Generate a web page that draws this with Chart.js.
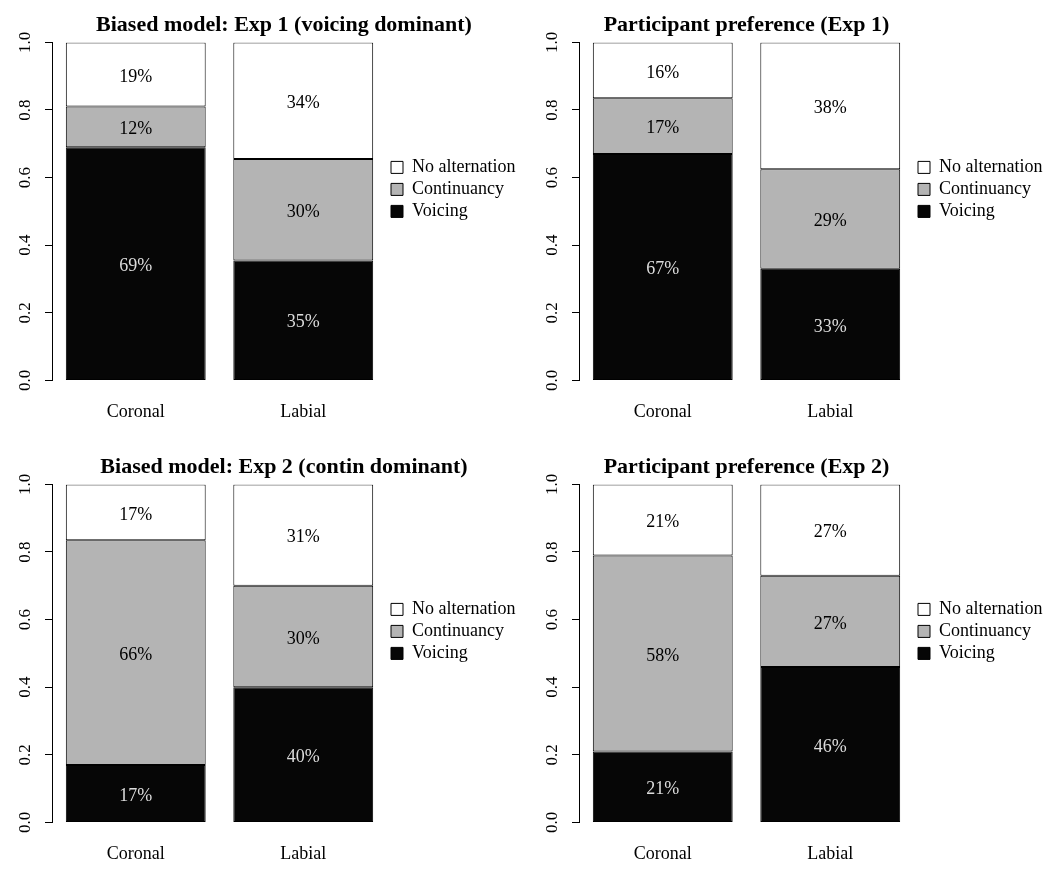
<!DOCTYPE html>
<html><head><meta charset="utf-8">
<script src="https://cdn.jsdelivr.net/npm/chart.js@4.4.1/dist/chart.umd.min.js"></script>
<style>
html,body{margin:0;padding:0;background:#fff;}
body{width:1056px;height:869px;position:relative;overflow:hidden;}
canvas{position:absolute;}
</style></head><body>
<canvas id="c1" width="568" height="434" style="left:0;top:0"></canvas>
<canvas id="c2" width="528" height="434" style="left:527px;top:0"></canvas>
<canvas id="c3" width="568" height="434" style="left:0;top:442px"></canvas>
<canvas id="c4" width="528" height="434" style="left:527px;top:442px"></canvas>
<script>
// ---- data ----
const categories = ['Coronal', 'Labial'];
const seriesNames = ['Voicing', 'Continuancy', 'No alternation'];
const yTickValues = [0, 0.2, 0.4, 0.6, 0.8, 1.0];

const title1 = 'Biased model: Exp 1 (voicing dominant)';
const voicing1 = [0.69, 0.355];
const contin1 = [0.12, 0.30];
const noAlt1 = [0.19, 0.345];
const voicingText1 = ['69%', '35%'];
const continText1 = ['12%', '30%'];
const noAltText1 = ['19%', '34%'];

const title2 = 'Participant preference (Exp 1)';
const voicing2 = [0.67, 0.33];
const contin2 = [0.165, 0.295];
const noAlt2 = [0.165, 0.375];
const voicingText2 = ['67%', '33%'];
const continText2 = ['17%', '29%'];
const noAltText2 = ['16%', '38%'];

const title3 = 'Biased model: Exp 2 (contin dominant)';
const voicing3 = [0.17, 0.40];
const contin3 = [0.665, 0.30];
const noAlt3 = [0.165, 0.30];
const voicingText3 = ['17%', '40%'];
const continText3 = ['66%', '30%'];
const noAltText3 = ['17%', '31%'];

const title4 = 'Participant preference (Exp 2)';
const voicing4 = [0.21, 0.46];
const contin4 = [0.58, 0.27];
const noAlt4 = [0.21, 0.27];
const voicingText4 = ['21%', '46%'];
const continText4 = ['58%', '27%'];
const noAltText4 = ['21%', '27%'];

// ---- rendering ----
const FONT = "'Liberation Serif', 'Times New Roman', serif";
Chart.defaults.font.family = FONT;
Chart.defaults.color = '#000';

const segLabelPlugin = {
  id: 'segLabels',
  afterDatasetsDraw(chart) {
    const ctx = chart.ctx;
    ctx.save();
    ctx.font = "18px " + FONT;
    ctx.textAlign = 'center';
    ctx.textBaseline = 'middle';
    chart.data.datasets.forEach((ds, di) => {
      const meta = chart.getDatasetMeta(di);
      meta.data.forEach((el, i) => {
        const p = el.getProps(['x', 'y', 'base'], true);
        ctx.fillStyle = ds.labelColor;
        ctx.fillText(ds.segText[i], p.x, (p.y + p.base) / 2 + 2.5);
      });
    });
    ctx.restore();
  }
};

// fixes the legend box width so the plot area and title land where they should
const legendWidthPlugin = {
  id: 'legendWidth',
  patch(chart, opts) {
    const lg = chart.legend;
    if (!lg || lg._widthPatched) return;
    const origFit = lg.fit;
    lg.fit = function () { origFit.call(this); if (this.options.display) this.width = opts.width; };
    lg._widthPatched = true;
  },
  beforeInit(chart, args, opts) { this.patch(chart, opts); },
  beforeUpdate(chart, args, opts) { this.patch(chart, opts); }
};

function makePanel(id, title, v, c, n, vt, ct, nt, isLeft) {
  new Chart(document.getElementById(id), {
    type: 'bar',
    data: {
      labels: categories,
      datasets: [
        { label: seriesNames[0], data: v, segText: vt, labelColor: '#dcdcdc', backgroundColor: '#060606' },
        { label: seriesNames[1], data: c, segText: ct, labelColor: '#000', backgroundColor: '#b4b4b4' },
        { label: seriesNames[2], data: n, segText: nt, labelColor: '#000', backgroundColor: '#ffffff' }
      ].map(d => Object.assign(d, { borderColor: '#000', borderWidth: 1, borderSkipped: false, categoryPercentage: 1, barPercentage: 0.835 }))
    },
    options: {
      responsive: false,
      animation: false,
      layout: { padding: { left: 0, right: 0, top: 0, bottom: -10 } },
      plugins: {
        tooltip: { enabled: false },
        legendWidth: { width: isLeft ? 181 : 141 },
        title: {
          display: true, text: title, fullSize: isLeft, color: '#000',
          font: { size: 22, weight: 'bold', family: FONT },
          padding: { top: 12, bottom: 4 }
        },
        legend: {
          position: 'right', align: 'start', fullSize: false, reverse: true,
          title: { display: true, text: '', font: { size: 10, lineHeight: 1 }, padding: { top: 102, bottom: 0 } },
          labels: { boxWidth: 12, boxHeight: 12, padding: 4, color: '#000', font: { size: 18, family: FONT } }
        }
      },
      scales: {
        x: {
          stacked: true,
          grid: { display: false, drawTicks: false },
          border: { display: false },
          ticks: { padding: 21, color: '#000', font: { size: 18, family: FONT } }
        },
        y: {
          stacked: true, min: 0, max: 1,
          afterBuildTicks: s => { s.ticks = yTickValues.map(val => ({ value: val })); },
          afterFit: s => { s.width = 52; },
          grid: { display: true, drawOnChartArea: false, drawTicks: true, tickLength: 7, color: '#000', lineWidth: 1 },
          border: { display: true, color: '#000', width: 1 },
          ticks: {
            minRotation: 90, maxRotation: 90, crossAlign: 'center', padding: 9,
            color: '#000', font: { size: 17, family: FONT },
            callback: val => Number(val).toFixed(1)
          }
        }
      }
    },
    plugins: [segLabelPlugin, legendWidthPlugin]
  });
}

makePanel('c1', title1, voicing1, contin1, noAlt1, voicingText1, continText1, noAltText1, true);
makePanel('c2', title2, voicing2, contin2, noAlt2, voicingText2, continText2, noAltText2, false);
makePanel('c3', title3, voicing3, contin3, noAlt3, voicingText3, continText3, noAltText3, true);
makePanel('c4', title4, voicing4, contin4, noAlt4, voicingText4, continText4, noAltText4, false);
</script>
</body></html>
